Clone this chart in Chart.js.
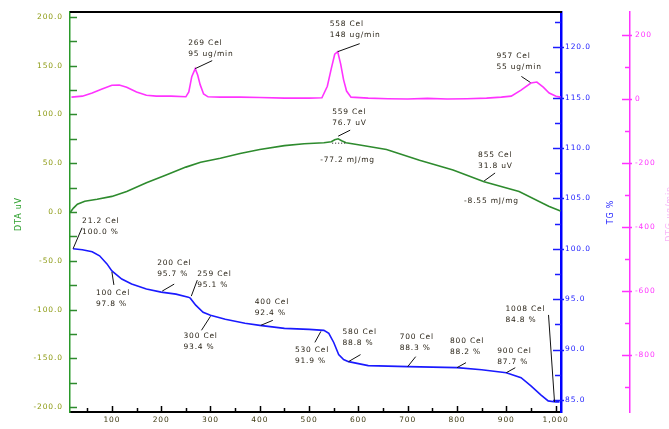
<!DOCTYPE html>
<html>
<head>
<meta charset="utf-8">
<script src="https://cdn.jsdelivr.net/npm/chart.js@4.4.1/dist/chart.umd.min.js"></script>
<style>
  html, body { margin: 0; padding: 0; background: #fff; }
  canvas { display: block; }
</style>
</head>
<body>
<canvas id="c" width="669" height="429"></canvas>
<script>
// DTG (ug/min), pink, far right axis
const tempDTG = [18, 40, 60, 80, 100, 115, 130, 150, 170, 190, 220, 250, 256, 262, 269, 274, 279, 286, 295, 320, 360, 400, 450, 500, 526, 537, 545, 552, 558, 564, 570, 576, 585, 620, 660, 700, 740, 780, 820, 860, 890, 910, 930, 950, 962, 975, 987, 1001, 1010];
const dtg     = [6, 9, 19, 31, 43, 44, 37, 22, 12, 9, 9, 7, 22, 70, 95, 75, 45, 16, 7, 6, 6, 5, 3, 3, 4, 40, 95, 140, 148, 110, 60, 25, 6, 3, 1, 0, 2, 0, 1, 3, 6, 9, 28, 50, 53, 37, 19, 9, 6];

// DTA (uV), green, left axis
const tempDTA = [16, 22, 30, 45, 70, 100, 130, 170, 210, 250, 280, 320, 360, 400, 450, 490, 530, 545, 552, 559, 566, 575, 600, 657, 724, 792, 855, 926, 986, 1010];
const dta     = [0, 4, 8, 11, 13, 16, 21, 30, 38, 46, 51, 55, 60, 64, 68, 70, 71, 72, 74, 75, 73, 71, 69, 64, 53, 43, 31, 21, 6, 1];

// TG (%), blue, inner right axis
const tempTG = [21.2, 40, 60, 75, 90, 100, 120, 140, 170, 200, 230, 255, 259, 270, 285, 300, 330, 370, 400, 450, 500, 530, 540, 550, 560, 570, 580, 620, 700, 800, 850, 900, 930, 950, 970, 985, 1000, 1008];
const tg     = [100.0, 99.9, 99.7, 99.3, 98.5, 97.8, 97.0, 96.5, 96.0, 95.7, 95.5, 95.2, 95.1, 94.4, 93.7, 93.4, 93.0, 92.6, 92.4, 92.1, 92.0, 91.9, 91.6, 90.7, 89.5, 89.0, 88.8, 88.4, 88.3, 88.2, 88.0, 87.7, 87.2, 86.4, 85.5, 84.9, 84.8, 84.8];

// tick labels
const xLabels   = [100, 200, 300, 400, 500, 600, 700, 800, 900, 1000];
const dtaLabels = [-200, -150, -100, -50, 0, 50, 100, 150, 200];
const tgLabels  = [85, 90, 95, 100, 105, 110, 115, 120];
const dtgLabels = [-800, -600, -400, -200, 0, 200];

// annotations: [series axis, temperature, value, text lines, text offset, leader from, leader to]
const notes = [
  ['yDTG', 269, 95,  ['269 Cel', '95 ug/min'],  [-7, -26],  [0, 0],  [17, -8]],
  ['yDTG', 558, 148, ['558 Cel', '148 ug/min'], [-8, -28],  [0, 0],  [22, -8]],
  ['yDTG', 957, 55,  ['957 Cel', '55 ug/min'],  [-38, -25], [-4, 1], [-13, -5]],
  ['yDTA', 559, 76.7, ['559 Cel', '76.7 uV'],   [-6, -25],  [0, -1], [12, -7]],
  ['yDTA', 855, 31.8, ['855 Cel', '31.8 uV'],   [-6, -26],  [0, 0],  [11, -8]],
  ['yTG', 21.2, 100.0, ['21.2 Cel', '100.0 %'], [9, -28],  [0, 0],  [9, -21]],
  ['yTG', 100, 97.8, ['100 Cel', '97.8 %'],     [-16, 22],  [0, 1],  [2, 14]],
  ['yTG', 200, 95.7, ['200 Cel', '95.7 %'],     [-4, -29],  [1, -1], [13, -8]],
  ['yTG', 259, 95.1, ['259 Cel', '95.1 %'],     [7, -24],   [1, -2], [7, -18]],
  ['yTG', 300, 93.4, ['300 Cel', '93.4 %'],     [-27, 21],  [0, 1],  [-9, 15]],
  ['yTG', 400, 92.4, ['400 Cel', '92.4 %'],     [-5, -23],  [1, 0],  [13, -5]],
  ['yTG', 530, 91.9, ['530 Cel', '91.9 %'],     [-29, 20],  [-3, 1], [-9, 12]],
  ['yTG', 580, 88.8, ['580 Cel', '88.8 %'],     [-6, -30],  [0, 0],  [12, -7]],
  ['yTG', 700, 88.3, ['700 Cel', '88.3 %'],     [-8, -30],  [0, 0],  [8, -10]],
  ['yTG', 800, 88.2, ['800 Cel', '88.2 %'],     [-7, -27],  [0, 0],  [9, -5]],
  ['yTG', 900, 87.7, ['900 Cel', '87.7 %'],     [-9, -22],  [0, 0],  [9, -5]],
  ['yTG', 1008, 84.8, ['1008 Cel', '84.8 %'],   [-54, -93], [-5, 0], [-11, -87]]
];
// enthalpy texts under the DTA peaks
const enthalpy = [
  ['yDTA', 559, 76.7, '-77.2 mJ/mg', [-18, 23]],
  ['yDTA', 855, 31.8, '-8.55 mJ/mg', [-20, 20]]
];

const PINK = '#ff33ff', GREEN = '#2e8b2e', BLUE = '#1a1aff';
const tickFont = { family: 'DejaVu Sans', size: 7.5 };
const pts = (xs, ys) => xs.map((x, i) => ({ x, y: ys[i] }));
const fixTicks = vals => s => { s.ticks = vals.map(v => ({ value: v })); };

const chrome = {
  id: 'chrome',
  beforeDraw(c) { c.ctx.letterSpacing = '0.9px'; },
  afterDatasetsDraw(c) {
    const { ctx, chartArea: a, scales } = c;
    const x = scales.x;
    ctx.save();
    ctx.letterSpacing = '0.8px';
    // top frame
    ctx.strokeStyle = '#000'; ctx.lineWidth = 2;
    ctx.beginPath(); ctx.moveTo(a.left, a.top); ctx.lineTo(a.right + 1, a.top); ctx.stroke();

    // tick marks
    ctx.lineWidth = 1.5;
    ctx.strokeStyle = '#000';
    for (let v = 50; v <= 1000; v += 50) {
      const p = Math.round(x.getPixelForValue(v)) + 0.5;
      const len = v % 100 === 0 ? 6 : 4;
      ctx.beginPath(); ctx.moveTo(p, a.bottom); ctx.lineTo(p, a.bottom - len); ctx.stroke();
    }
    ctx.strokeStyle = GREEN;
    for (let v = -200; v <= 200; v += 25) {
      const p = Math.round(scales.yDTA.getPixelForValue(v)) + 0.5;
      ctx.beginPath(); ctx.moveTo(a.left, p); ctx.lineTo(a.left + 7, p); ctx.stroke();
    }
    ctx.strokeStyle = BLUE;
    for (let v = 85; v <= 122.5; v += 2.5) {
      const p = Math.round(scales.yTG.getPixelForValue(v)) + 0.5;
      const major = v % 5 === 0;
      ctx.beginPath(); ctx.moveTo(a.right - (major ? 8 : 6), p); ctx.lineTo(a.right + (major ? 3 : 0), p); ctx.stroke();
    }
    ctx.strokeStyle = PINK;
    const dl = scales.yDTG.left;
    for (let v = -900; v <= 200; v += 100) {
      const p = Math.round(scales.yDTG.getPixelForValue(v)) + 0.5;
      const major = v % 200 === 0;
      ctx.beginPath(); ctx.moveTo(dl - (major ? 8 : 5), p); ctx.lineTo(dl + (major ? 2 : 0), p); ctx.stroke();
    }

    // axis titles
    const vtext = (t, px, py, color, size) => {
      ctx.save();
      ctx.translate(px, py); ctx.rotate(-Math.PI / 2);
      ctx.fillStyle = color; ctx.font = size + 'px "DejaVu Sans"';
      ctx.textAlign = 'center'; ctx.textBaseline = 'middle';
      ctx.fillText(t, 0, 0);
      ctx.restore();
    };
    vtext('DTA uV', 19, 214, '#2ea02e', 8);
    vtext('TG %', 611, 212, BLUE, 8);
    vtext('DTG ug/min', 670, 214, '#f9b4f9', 8);

    // annotations
    ctx.font = '7.5px "DejaVu Sans"';
    ctx.textAlign = 'left'; ctx.textBaseline = 'middle';
    notes.forEach(([ax, t, v, lines, to, l0, l1]) => {
      const px = x.getPixelForValue(t), py = scales[ax].getPixelForValue(v);
      ctx.strokeStyle = '#111'; ctx.lineWidth = 1;
      ctx.beginPath(); ctx.moveTo(px + l0[0], py + l0[1]); ctx.lineTo(px + l1[0], py + l1[1]); ctx.stroke();
      ctx.fillStyle = '#2a2418';
      lines.forEach((s, i) => ctx.fillText(s, px + to[0], py + to[1] + i * 11));
    });
    enthalpy.forEach(([ax, t, v, s, to], i) => {
      const px = x.getPixelForValue(t), py = scales[ax].getPixelForValue(v);
      ctx.fillStyle = '#2a2418';
      ctx.fillText(s, px + to[0], py + to[1]);
      if (i === 0) {
        ctx.save();
        ctx.strokeStyle = '#111'; ctx.setLineDash([1, 2]);
        ctx.beginPath(); ctx.moveTo(px - 6, py + 6); ctx.lineTo(px + 8, py + 6); ctx.stroke();
        ctx.restore();
      }
    });
    ctx.restore();
  }
};

new Chart(document.getElementById('c'), {
  type: 'line',
  data: {
    datasets: [
      { data: pts(tempDTG, dtg), yAxisID: 'yDTG', borderColor: PINK, borderWidth: 1.6 },
      { data: pts(tempDTA, dta), yAxisID: 'yDTA', borderColor: GREEN, borderWidth: 1.6 },
      { data: pts(tempTG, tg), yAxisID: 'yTG', borderColor: BLUE, borderWidth: 1.6 }
    ]
  },
  options: {
    responsive: false,
    animation: false,
    events: [],
    layout: { padding: { top: 12, left: 0, right: 0, bottom: 0 } },
    elements: { point: { radius: 0 }, line: { tension: 0 } },
    plugins: { legend: { display: false }, tooltip: { enabled: false } },
    scales: {
      x: {
        type: 'linear', position: 'bottom', min: 15, max: 1011,
        afterBuildTicks: fixTicks(xLabels),
        afterFit: s => { s.height = 17; },
        grid: { display: false, drawTicks: false },
        border: { display: true, color: '#000', width: 2 },
        ticks: { padding: 4, maxRotation: 0, autoSkip: false, color: '#3d3a12', font: tickFont }
      },
      yDTA: {
        position: 'left', min: -205, max: 205,
        afterBuildTicks: fixTicks(dtaLabels),
        afterFit: s => { s.width = 70; },
        grid: { display: false, drawTicks: false },
        border: { display: true, color: '#2a9a2a', width: 1.5 },
        ticks: { padding: 7, color: '#8c9a12', font: tickFont, callback: v => v.toFixed(1) }
      },
      yTG: {
        position: 'right', min: 83.8, max: 123.5, weight: 0,
        afterBuildTicks: fixTicks(tgLabels),
        afterFit: s => { s.width = 69; },
        grid: { display: false, drawTicks: false },
        border: { display: true, color: '#0000ff', width: 2.5 },
        ticks: { padding: 4, color: BLUE, font: tickFont, callback: v => v.toFixed(1) }
      },
      yDTG: {
        position: 'right', min: -978, max: 272, weight: 1,
        afterBuildTicks: fixTicks(dtgLabels),
        afterFit: s => { s.width = 39; },
        grid: { display: false, drawTicks: false },
        border: { display: true, color: PINK, width: 1.5 },
        ticks: { padding: 5, color: PINK, font: tickFont, callback: v => String(v) }
      }
    }
  },
  plugins: [chrome]
});
</script>
</body>
</html>
